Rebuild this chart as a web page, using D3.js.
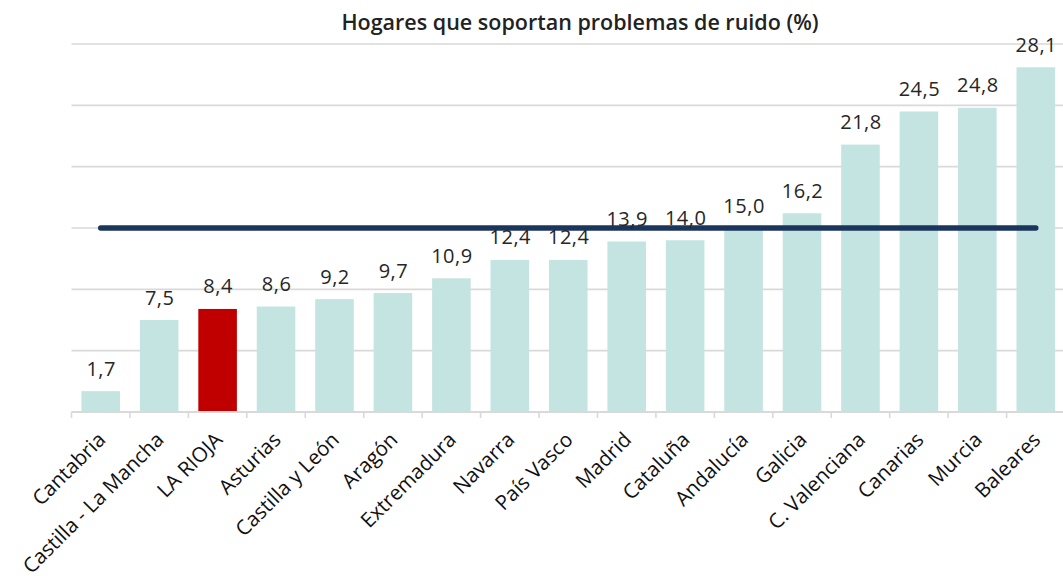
<!DOCTYPE html>
<html>
<head>
<meta charset="utf-8">
<script src="https://cdn.jsdelivr.net/npm/d3@7"></script>
<style>
  html, body { margin: 0; padding: 0; background: #ffffff; }
  svg { display: block; }
</style>
</head>
<body>
<svg id="chart" width="1063" height="576"></svg>
<script>
const categories = ["Cantabria", "Castilla - La Mancha", "LA RIOJA", "Asturias", "Castilla y León", "Aragón", "Extremadura", "Navarra", "País Vasco", "Madrid", "Cataluña", "Andalucía", "Galicia", "C. Valenciana", "Canarias", "Murcia", "Baleares"];
const values = [1.7, 7.5, 8.4, 8.6, 9.2, 9.7, 10.9, 12.4, 12.4, 13.9, 14.0, 15.0, 16.2, 21.8, 24.5, 24.8, 28.1];
const highlight = ["LA RIOJA"];
const nationalAverage = [15.0];
const yTicks = [0, 5, 10, 15, 20, 25, 30];
const title = "Hogares que soportan problemas de ruido (%)";

const svg = d3.select("#chart");

const x = d3.scaleBand().domain(categories).range([71.5, 1065]).paddingInner(0.34).paddingOuter(0.17);
const y = d3.scaleLinear().domain([0, 30]).range([412, 44]);

// Title
svg.append("text")
  .attr("x", 580).attr("y", 30)
  .attr("text-anchor", "middle")
  .attr("font-family", "'Open Sans', sans-serif")
  .attr("font-weight", 600)
  .attr("font-size", 21.5)
  .attr("fill", "#222")
  .text(title);

// Gridlines
svg.append("g").selectAll("line")
  .data(yTicks.filter(d => d > 0))
  .join("line")
  .attr("x1", x.range()[0]).attr("x2", x.range()[1])
  .attr("y1", d => y(d)).attr("y2", d => y(d))
  .attr("stroke", "#d9d9d9").attr("stroke-width", 1.6);

// Bars
svg.append("g").selectAll("rect")
  .data(categories)
  .join("rect")
  .attr("x", d => x(d))
  .attr("width", x.bandwidth())
  .attr("y", (d, i) => y(values[i]))
  .attr("height", (d, i) => y(0) - y(values[i]))
  .attr("fill", d => highlight.includes(d) ? "#c00000" : "#c4e4e1");

// Axis baseline + ticks
const xAxis = d3.axisBottom(x).tickSize(0).tickFormat("");
const axisG = svg.append("g").attr("transform", `translate(0,${y(0)})`).call(xAxis);
axisG.select(".domain").remove();
axisG.append("line")
  .attr("x1", x.range()[0]).attr("x2", x.range()[1])
  .attr("stroke", "#d9d9d9").attr("stroke-width", 2.2);
const boundaries = d3.range(categories.length + 1).map(i => x.range()[0] + i * x.step());
axisG.selectAll("line.tk").data(boundaries).join("line").attr("class", "tk")
  .attr("x1", d => d).attr("x2", d => d)
  .attr("y1", 0).attr("y2", 6)
  .attr("stroke", "#d9d9d9").attr("stroke-width", 1.6);

// Category labels
svg.append("g").selectAll("text")
  .data(categories)
  .join("text")
  .attr("transform", d => `translate(${x(d) + x.bandwidth() / 2 + 6},${y(0) + 29}) rotate(-45)`)
  .attr("text-anchor", "end")
  .attr("font-family", "'Open Sans', sans-serif")
  .attr("font-size", 20.5)
  .attr("fill", "#111")
  .text(d => d);

// Average line
svg.append("line")
  .attr("x1", x(categories[0]) + x.bandwidth() / 2)
  .attr("x2", x(categories[categories.length - 1]) + x.bandwidth() / 2)
  .attr("y1", y(nationalAverage[0])).attr("y2", y(nationalAverage[0]))
  .attr("stroke", "#1b365d").attr("stroke-width", 5.5).attr("stroke-linecap", "round");

// Value labels
const fmt = v => d3.format(".1f")(v).replace(".", ",");
svg.append("g").selectAll("text")
  .data(categories)
  .join("text")
  .attr("x", d => x(d) + x.bandwidth() / 2 + 0.5)
  .attr("y", (d, i) => y(values[i]) - 15.5)
  .attr("text-anchor", "middle")
  .attr("font-family", "'Open Sans', sans-serif")
  .attr("font-size", 20)
  .attr("letter-spacing", 0.5)
  .attr("fill", "#262626")
  .text((d, i) => fmt(values[i]));
</script>
</body>
</html>
